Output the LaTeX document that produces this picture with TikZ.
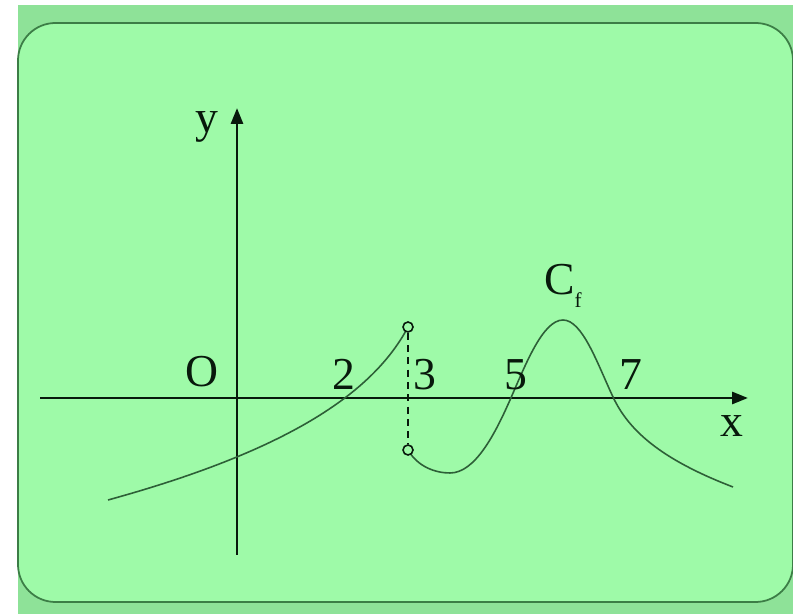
\documentclass[tikz,border=0pt]{standalone}
\usepackage{fontspec}
\setmainfont{Liberation Serif}
\usetikzlibrary{arrows.meta}
\definecolor{panelgreen}{RGB}{158,250,168}
\definecolor{bandgreen}{RGB}{142,226,152}
\definecolor{edgegreen}{RGB}{60,125,70}
\definecolor{curvegreen}{RGB}{45,95,55}
\definecolor{axisblack}{RGB}{8,25,12}
\tikzset{
  axis/.style={axisblack,line width=1.6pt,-{Triangle[length=3.2mm,width=2.4mm]}},
  graph/.style={curvegreen,line width=0.9pt},
  hole/.style={circle,draw=axisblack,fill=panelgreen,line width=0.9pt,inner sep=0pt,minimum size=2mm},
  lbl/.style={font=\fontsize{26}{30}\selectfont,text=axisblack,inner sep=0pt,anchor=base}
}

\begin{document}
\begin{tikzpicture}
  \useasboundingbox (0,0) rectangle (15.86,12.28);
  \fill[white] (0,0) rectangle (15.86,12.28);
  \fill[bandgreen] (0.36,0) rectangle (15.86,12.18);
  \filldraw[fill=panelgreen,draw=edgegreen,line width=1pt,rounded corners=0.75cm]
    (0.36,0.24) rectangle (15.86,11.82);

  % axes
  \coordinate (xl) at (0.80,4.32);
  \coordinate (xr) at (14.96,4.32);
  \coordinate (yb) at (4.74,1.18);
  \coordinate (yt) at (4.74,10.12);
  \draw[axis] (xl) -- (xr);
  \draw[axis] (yb) -- (yt);

  % the two branches, broken at x=3
  \coordinate (p3) at (8.16,5.74);
  \coordinate (q3) at (8.16,3.28);
  \draw[graph] (2.16,2.28) .. controls (5.5,3.2) and (7.4,4.3) .. (p3);
  \draw[graph] (q3) .. controls (8.35,2.95) and (8.7,2.82) .. (9.0,2.82)
    .. controls (9.5,2.82) and (9.9,3.6) .. (10.2,4.28)
    .. controls (10.5,4.96) and (10.85,5.88) .. (11.26,5.88)
    .. controls (11.65,5.88) and (11.95,5.0) .. (12.26,4.34)
    .. controls (12.57,3.68) and (13.2,3.1) .. (14.66,2.54);
  \node[hole] (top) at (p3) {};
  \node[hole] (bot) at (q3) {};
  \draw[axisblack,line width=0.9pt,dash pattern=on 4pt off 3pt] (top) -- (bot);

  % labels
  \node[lbl] (ylab) at (4.14,9.62) {y};
  \node[lbl] (olab) at (4.04,4.54) {O};
  \node[lbl] (two) at (6.88,4.48) {2};
  \node[lbl] (three) at (8.50,4.48) {3};
  \node[lbl] (five) at (10.32,4.48) {5};
  \node[lbl] (seven) at (12.62,4.48) {7};
  \node[lbl] (xlab) at (14.64,3.54) {x};
  \node[lbl] (cf) at (11.26,6.38) {C\raisebox{-7pt}{\fontsize{12}{12}\selectfont f}};
\end{tikzpicture}
\end{document}
